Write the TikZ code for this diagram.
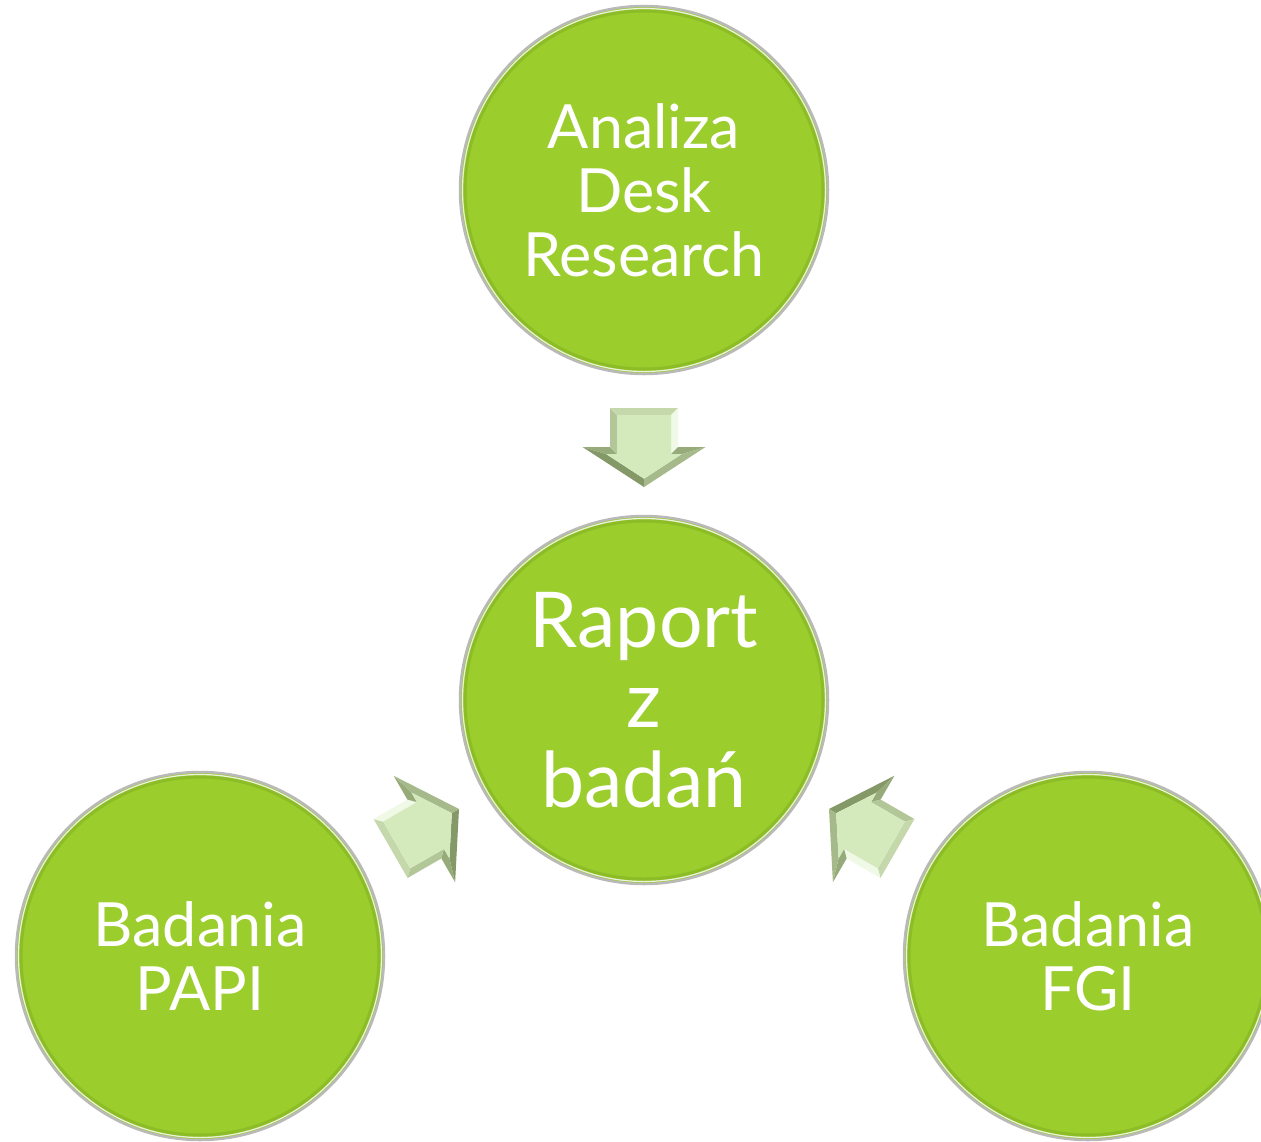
\documentclass[tikz,border=0pt]{standalone}
\usepackage{fontspec}
\setmainfont{Lato}
\definecolor{bubblegreen}{RGB}{155,205,45}
\definecolor{bubbleedge}{RGB}{140,188,38}
\definecolor{rimgray}{RGB}{185,185,185}
\definecolor{rimlight}{RGB}{235,240,225}
\definecolor{arrowlight}{RGB}{212,234,188}
\definecolor{bevhi}{RGB}{240,248,230}
\definecolor{bevmid}{RGB}{178,198,152}
\definecolor{bevtail}{RGB}{196,216,172}
\definecolor{bevdark}{RGB}{132,152,104}
\definecolor{bevback}{RGB}{150,170,122}
\definecolor{bevedge}{RGB}{165,185,138}
\begin{document}
\begin{tikzpicture}[x=1pt,y=-1pt,
  bubble/.style={circle, minimum size=368pt, inner sep=0pt, fill=bubblegreen,
    draw=rimgray, line width=2.5pt, text=white, align=center,
    font=\fontsize{61}{64}\selectfont},
  bigtext/.style={font=\fontsize{77}{80}\selectfont},
  innerrim/.style={draw=rimlight, line width=1.2pt},
  innershade/.style={draw=bubbleedge, line width=3pt},
  blockarrow/.pic={
    % outer points
    \coordinate (o1) at (0,0);     \coordinate (o2) at (-40,61.5);
    \coordinate (o3) at (-40,34);  \coordinate (o4) at (-79,34);
    \coordinate (o5) at (-79,-34); \coordinate (o6) at (-40,-34);
    \coordinate (o7) at (-40,-61.5);
    % inner points
    \coordinate (i1) at (-8.3,0);  \coordinate (i2) at (-33,38);
    \coordinate (i3) at (-33,27);  \coordinate (i4) at (-72,27);
    \coordinate (i5) at (-72,-27); \coordinate (i6) at (-33,-27);
    \coordinate (i7) at (-33,-38);
    \fill[bevdark] (o1) -- (o2) -- (i2) -- (i1) -- cycle;
    \fill[bevback] (o2) -- (o3) -- (i3) -- (i2) -- cycle;
    \fill[bevmid]  (o3) -- (o4) -- (i4) -- (i3) -- cycle;
    \fill[bevtail] (o4) -- (o5) -- (i5) -- (i4) -- cycle;
    \fill[bevhi]   (o5) -- (o6) -- (i6) -- (i5) -- cycle;
    \fill[bevback] (o6) -- (o7) -- (i7) -- (i6) -- cycle;
    \fill[bevedge] (o7) -- (o1) -- (i1) -- (i7) -- cycle;
    \fill[arrowlight] (i1) -- (i2) -- (i3) -- (i4) -- (i5) -- (i6) -- (i7) -- cycle;
  }]
\useasboundingbox (0,0) rectangle (1261,1141);
\fill[white] (0,0) rectangle (1261,1141);
\clip (0,0) rectangle (1261,1141);

\node[bubble] (desk) at (644,190) {Analiza\\Desk\\Research};
\node[bubble, bigtext] (raport) at (644,700) {Raport\\z\\badań};
\node[bubble] (papi) at (200,956) {Badania\\PAPI};
\node[bubble] (fgi) at (1088,956) {Badania\\FGI};

\begin{scope}[on background layer/.try]
\end{scope}
\foreach \n in {desk,raport,papi,fgi}{
  \draw[innershade] (\n.center) circle (179);
  \draw[innerrim] (\n.center) circle (181.5);
}
% redraw texts above the inner rings is unnecessary: rings lie outside text

\pic (a1) at (644,487) [rotate=-90] {blockarrow};
\pic (a2) at (459,809) [rotate=30] {blockarrow};
\pic (a3) at (829,809) [rotate=150] {blockarrow};
\end{tikzpicture}
\end{document}
